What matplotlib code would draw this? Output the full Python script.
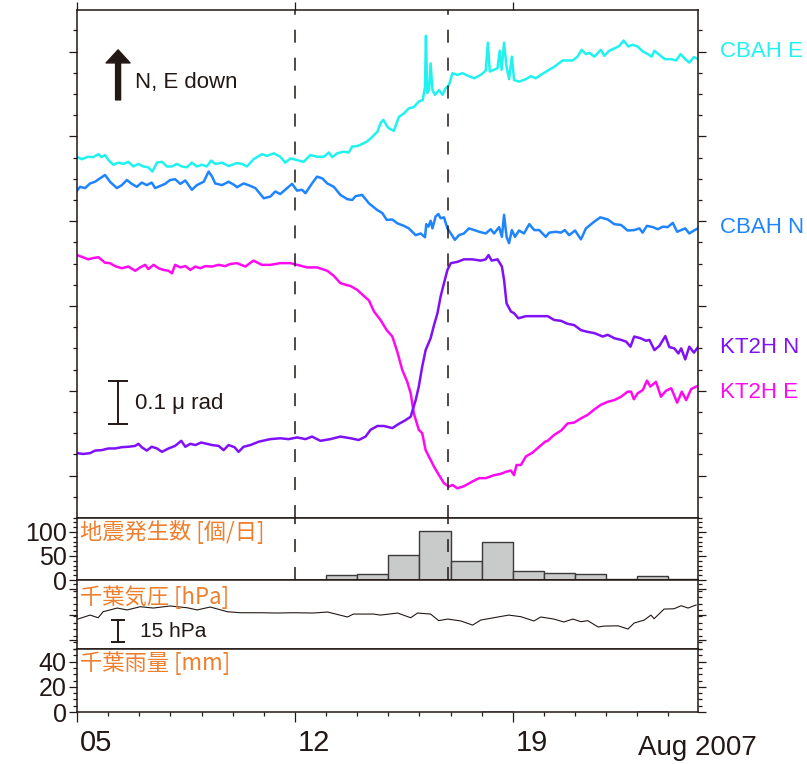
import numpy as np
import matplotlib
matplotlib.use('Agg')
import matplotlib.pyplot as plt
from matplotlib.ticker import MultipleLocator, FixedLocator
from matplotlib.transforms import ScaledTranslation

plt.rcParams['font.family'] = ['Liberation Sans', 'DejaVu Sans']

# ---------------- data (time = days since 2007-08-05 00:00) ----------------
# tilt traces, micro-radian (arbitrary offsets, N and E down)
cbah_e_t = [0.00,0.15,0.36,0.52,0.69,0.79,0.90,1.01,1.17,1.33,
            1.49,1.65,1.81,1.97,2.13,2.29,2.42,2.57,2.73,2.89,
            3.05,3.21,3.37,3.53,3.69,3.85,4.01,4.17,4.31,4.44,
            4.66,4.87,5.06,5.14,5.30,5.46,5.67,5.94,6.11,6.32,
            6.53,6.69,6.86,7.07,7.28,7.50,7.71,7.93,8.09,8.20,
            8.36,8.57,8.73,8.84,9.00,9.16,9.32,9.49,9.65,9.75,
            9.84,9.97,10.02,10.18,10.34,10.50,10.66,10.82,10.98,11.11,
            11.18,11.21,11.25,11.31,11.36,11.42,11.50,11.63,11.74,11.84,
            11.95,12.06,12.22,12.38,12.59,12.76,12.97,13.13,13.20,13.26,
            13.40,13.51,13.58,13.64,13.72,13.80,13.88,13.97,14.04,14.20,
            14.42,14.58,14.74,14.90,15.12,15.33,15.60,15.92,16.08,16.21,
            16.35,16.46,16.62,16.83,16.94,17.10,17.28,17.42,17.56,17.71,
            17.85,18.01,18.18,18.34,18.46,18.55,18.71,18.89,19.09,19.25,
            19.39,19.54,19.67,19.82,19.95]
cbah_e = [0.852,0.846,0.852,0.851,0.858,0.851,0.856,0.844,0.833,0.838,
          0.835,0.840,0.829,0.835,0.829,0.827,0.817,0.838,0.840,0.829,
          0.829,0.835,0.829,0.827,0.838,0.829,0.833,0.829,0.843,0.835,
          0.838,0.830,0.835,0.837,0.835,0.829,0.846,0.858,0.854,0.860,
          0.852,0.838,0.848,0.844,0.840,0.856,0.852,0.852,0.862,0.851,
          0.860,0.864,0.862,0.876,0.877,0.882,0.888,0.899,0.911,0.931,
          0.939,0.923,0.919,0.913,0.946,0.954,0.966,0.969,0.982,0.986,
          1.017,1.137,1.002,1.009,1.072,1.009,0.998,1.009,0.998,1.013,
          1.021,1.049,1.045,1.049,1.042,1.037,1.045,1.055,1.121,1.053,
          1.057,1.061,1.102,1.057,1.121,1.064,1.035,1.088,1.033,1.029,
          1.035,1.042,1.037,1.045,1.055,1.064,1.079,1.079,1.088,1.104,
          1.094,1.097,1.088,1.104,1.090,1.102,1.108,1.113,1.126,1.112,
          1.116,1.112,1.100,1.094,1.088,1.102,1.092,1.082,1.082,1.079,
          1.094,1.082,1.074,1.087,1.082]

cbah_n_t = [0.00,0.10,0.26,0.42,0.58,0.74,0.90,1.06,1.28,1.44,
            1.60,1.76,1.92,2.08,2.24,2.40,2.51,2.67,2.83,2.99,
            3.15,3.32,3.48,3.69,3.85,4.07,4.23,4.34,4.44,4.66,
            4.87,5.06,5.14,5.35,5.51,5.73,6.00,6.21,6.37,6.53,
            6.75,6.91,7.07,7.23,7.34,7.55,7.71,7.88,8.04,8.25,
            8.46,8.68,8.84,8.95,9.16,9.38,9.65,9.81,9.95,10.13,
            10.29,10.50,10.66,10.88,11.04,11.18,11.22,11.29,11.36,11.42,
            11.52,11.61,11.68,11.79,11.90,12.01,12.14,12.27,12.43,12.59,
            12.76,12.92,13.13,13.29,13.40,13.56,13.65,13.72,13.80,13.88,
            13.97,14.07,14.20,14.36,14.53,14.69,14.85,15.06,15.17,15.38,
            15.55,15.67,15.81,16.00,16.19,16.35,16.62,16.81,17.05,17.26,
            17.48,17.69,17.90,18.07,18.17,18.31,18.50,18.66,18.82,18.98,
            19.14,19.28,19.41,19.54,19.67,19.82,19.95]
cbah_n = [0.772,0.781,0.778,0.789,0.793,0.801,0.809,0.793,0.778,0.785,
          0.797,0.788,0.781,0.791,0.785,0.791,0.778,0.783,0.788,0.797,
          0.799,0.788,0.796,0.774,0.785,0.793,0.817,0.805,0.789,0.785,
          0.793,0.785,0.780,0.789,0.785,0.778,0.754,0.758,0.770,0.764,
          0.778,0.788,0.772,0.774,0.766,0.789,0.805,0.801,0.789,0.781,
          0.762,0.752,0.750,0.759,0.762,0.742,0.726,0.719,0.703,0.704,
          0.695,0.689,0.683,0.667,0.671,0.662,0.693,0.687,0.701,0.683,
          0.711,0.717,0.707,0.709,0.683,0.671,0.656,0.667,0.671,0.683,
          0.679,0.675,0.671,0.681,0.671,0.686,0.663,0.715,0.663,0.648,
          0.679,0.663,0.678,0.671,0.693,0.679,0.679,0.663,0.673,0.675,
          0.673,0.679,0.667,0.678,0.657,0.683,0.699,0.709,0.704,0.693,
          0.691,0.678,0.679,0.683,0.673,0.689,0.686,0.681,0.687,0.686,
          0.696,0.675,0.679,0.683,0.671,0.678,0.683]

kt2h_e_t = [0.00,0.15,0.36,0.52,0.69,0.90,1.06,1.22,1.44,1.65,
            1.87,2.03,2.19,2.29,2.46,2.62,2.78,2.94,3.05,3.15,
            3.32,3.48,3.64,3.80,3.96,4.12,4.34,4.55,4.76,4.92,
            5.14,5.41,5.67,5.94,6.21,6.53,6.86,7.07,7.39,7.71,
            8.04,8.25,8.46,8.63,8.79,9.00,9.21,9.38,9.54,9.75,
            9.95,10.13,10.29,10.45,10.61,10.72,10.82,10.98,11.09,11.20,
            11.36,11.47,11.63,11.79,11.95,12.06,12.22,12.43,12.70,12.92,
            13.13,13.40,13.61,13.78,13.94,14.04,14.12,14.26,14.42,14.63,
            14.85,15.04,15.12,15.33,15.55,15.76,15.97,16.19,16.40,16.62,
            16.83,17.05,17.26,17.48,17.69,17.80,17.89,18.01,18.18,18.31,
            18.42,18.60,18.76,18.92,19.09,19.28,19.43,19.57,19.73,19.89,19.95]
kt2h_e = [0.620,0.616,0.610,0.613,0.615,0.602,0.601,0.594,0.589,0.593,
          0.583,0.591,0.597,0.587,0.597,0.589,0.585,0.583,0.577,0.597,
          0.591,0.594,0.585,0.593,0.589,0.594,0.593,0.597,0.594,0.599,
          0.601,0.593,0.607,0.597,0.597,0.601,0.601,0.597,0.591,0.591,
          0.583,0.571,0.554,0.550,0.547,0.538,0.524,0.513,0.487,0.467,
          0.443,0.428,0.392,0.349,0.321,0.294,0.247,0.208,0.200,0.160,
          0.137,0.121,0.101,0.082,0.074,0.078,0.070,0.075,0.086,0.094,
          0.094,0.101,0.104,0.109,0.112,0.101,0.125,0.125,0.145,0.154,
          0.168,0.180,0.182,0.196,0.206,0.223,0.225,0.235,0.243,0.256,
          0.267,0.274,0.278,0.286,0.298,0.298,0.280,0.294,0.302,0.324,
          0.310,0.321,0.286,0.300,0.306,0.272,0.298,0.278,0.304,0.310,0.311]

kt2h_n_t = [0.00,0.20,0.42,0.58,0.79,1.01,1.22,1.44,1.65,1.87,
            1.97,2.08,2.24,2.40,2.57,2.73,2.94,3.15,3.35,3.48,
            3.64,3.80,3.99,4.17,4.34,4.55,4.71,4.87,5.06,5.19,
            5.35,5.57,5.84,6.21,6.53,6.80,7.07,7.34,7.55,7.82,
            8.14,8.46,8.79,9.05,9.27,9.43,9.65,9.86,10.13,10.34,
            10.56,10.72,10.88,10.98,11.09,11.20,11.36,11.47,11.58,11.68,
            11.79,11.90,12.01,12.22,12.43,12.70,12.97,13.13,13.22,13.32,
            13.51,13.65,13.72,13.80,13.94,14.04,14.18,14.42,14.69,14.96,
            15.12,15.33,15.55,15.76,15.97,16.19,16.40,16.62,16.89,17.05,
            17.26,17.48,17.64,17.78,17.90,18.10,18.28,18.39,18.55,18.71,
            18.90,19.03,19.19,19.32,19.41,19.54,19.67,19.82,19.95]
kt2h_n = [0.153,0.151,0.153,0.159,0.160,0.164,0.164,0.167,0.168,0.170,
          0.175,0.167,0.159,0.168,0.164,0.156,0.164,0.170,0.182,0.168,
          0.175,0.172,0.178,0.175,0.172,0.170,0.160,0.172,0.167,0.156,
          0.168,0.172,0.180,0.186,0.188,0.186,0.190,0.186,0.192,0.182,
          0.186,0.192,0.188,0.184,0.192,0.208,0.217,0.217,0.212,0.222,
          0.231,0.239,0.278,0.310,0.357,0.396,0.424,0.455,0.483,0.522,
          0.554,0.585,0.601,0.604,0.610,0.610,0.607,0.610,0.620,0.607,
          0.610,0.593,0.561,0.506,0.487,0.483,0.471,0.476,0.476,0.476,
          0.476,0.467,0.465,0.458,0.455,0.443,0.439,0.436,0.428,0.432,
          0.424,0.420,0.416,0.404,0.428,0.424,0.418,0.420,0.396,0.406,
          0.429,0.403,0.400,0.388,0.400,0.374,0.404,0.390,0.403]

# daily earthquake counts (Aug 5 .. Aug 24)
quake_day = [0, 1, 2, 3, 4, 5, 6, 7, 8, 9, 10, 11, 12, 13, 14, 15, 16, 17, 18, 19]
quake_count = [0, 1, 1, 0, 1, 0, 1, 0, 10, 13.5, 53, 102, 40.5, 80, 19, 15.5, 13.5, 2, 9, 2]

# Chiba pressure (hPa)
press_t = [0.00,0.42,0.68,0.84,1.29,1.61,2.03,2.45,2.99,3.54,
           3.86,4.28,4.83,5.25,5.89,6.44,6.95,7.60,8.05,8.69,
           8.88,9.53,9.75,10.30,10.72,10.94,11.36,11.62,11.91,12.33,
           12.71,12.97,13.39,13.87,14.26,14.68,14.90,15.32,15.64,15.93,
           16.19,16.41,16.74,16.93,17.38,17.70,17.90,18.22,18.44,18.54,
           18.86,19.18,19.41,19.63,19.89]
press_hpa = [1004.3,1007.2,1005.4,1009.5,1012.0,1010.7,1012.9,1012.0,1013.4,1012.2,
             1010.7,1012.7,1009.5,1008.8,1008.8,1008.6,1008.8,1008.6,1009.3,1005.9,
             1007.9,1007.9,1007.2,1008.6,1005.4,1008.6,1007.9,1003.4,1004.5,1003.2,
             1000.4,1003.8,1005.4,1007.2,1006.1,1003.2,1005.9,1004.5,1002.5,1004.5,
             1002.7,1003.4,999.1,999.7,999.9,997.7,1001.8,1003.8,1007.2,1004.7,
             1011.3,1011.5,1013.6,1012.0,1014.1]

# Chiba daily rain (mm)
rain_day = [0, 1, 2, 3, 4, 5, 6, 7, 8, 9, 10, 11, 12, 13, 14, 15, 16, 17, 18, 19]
rain_mm = [0, 0, 0, 0, 0, 0, 0, 0, 0, 0, 0, 0, 0, 0.6, 0, 0, 0, 0, 0.6, 0]

event_days = [7.0, 11.93]
day_ticks = [0, 7, 14]
day_labels = ['05', '12', '19']

# ---------------- style ----------------
INK = '#231815'
C_CBAH_E = '#20F2F0'
C_CBAH_N = '#1E84FF'
C_KT2H_N = '#8010F8'
C_KT2H_E = '#FF0AF0'
ORANGE = '#EE7F2D'
JP = ['Noto Sans CJK JP', 'DejaVu Sans']
XMAX = 19.95

fig = plt.figure(figsize=(8.07, 7.64), dpi=100)
fig.patch.set_facecolor('white')
L, W = 77 / 807, 621 / 807


def frame(top, bottom):
    return [L, 1 - bottom / 764, W, (bottom - top) / 764]


ax = fig.add_axes(frame(10, 518))
axq = fig.add_axes(frame(518, 580))
axp = fig.add_axes(frame(580, 649))
axr = fig.add_axes(frame(649, 712))

for a in (ax, axq, axp, axr):
    a.set_xlim(0, XMAX)
    for s in a.spines.values():
        s.set_color(INK)
        s.set_linewidth(1.1)
    a.tick_params(which='both', direction='out', color=INK, width=0.9,
                  left=True, right=True, labelsize=18, labelcolor=INK)
    a.tick_params(which='major', length=6, pad=1.5)
    a.tick_params(which='minor', length=3)

# ---------------- main tilt panel ----------------
ax.plot(cbah_e_t, cbah_e, color=C_CBAH_E, lw=1.8)
ax.plot(cbah_n_t, cbah_n, color=C_CBAH_N, lw=1.8)
ax.plot(kt2h_e_t, kt2h_e, color=C_KT2H_E, lw=1.8)
ax.plot(kt2h_n_t, kt2h_n, color=C_KT2H_N, lw=1.8)
ax.set_ylim(0, 1.198)
ax.yaxis.set_major_locator(FixedLocator([0.1, 0.3, 0.5, 0.7, 0.9, 1.1]))
ax.yaxis.set_minor_locator(MultipleLocator(0.05))
ax.xaxis.set_major_locator(FixedLocator(day_ticks))
ax.xaxis.set_minor_locator(MultipleLocator(1))
ax.tick_params(labelleft=False, labelbottom=False, top=True, bottom=False)

yt = ax.get_yaxis_transform()
for name, yv, col in [('CBAH E', 1.099, C_CBAH_E), ('CBAH N', 0.684, C_CBAH_N),
                      ('KT2H N', 0.401, C_KT2H_N), ('KT2H E', 0.297, C_KT2H_E)]:
    ax.text(1.035, yv, name, transform=yt, color=col, fontsize=16,
            ha='left', va='center', clip_on=False)

# north arrow
ax.annotate('', xy=(1.32, 1.104), xytext=(1.32, 0.986),
            arrowprops=dict(arrowstyle='simple,head_length=0.47,head_width=0.86,tail_width=0.18',
                            color=INK, mutation_scale=20, shrinkA=0, shrinkB=0))
ax.text(1.86, 1.028, 'N, E down', fontsize=16, color=INK, ha='left', va='center')

# 0.1 micro-rad scale bar
ax.plot([1.32, 1.32], [0.222, 0.322], color=INK, lw=1.4)
ax.plot([1.32, 1.32], [0.222, 0.322], ls='none', marker='_', ms=14, mew=1.4, color=INK)
ax.text(1.86, 0.271, '0.1 μ rad', fontsize=16, color=INK, ha='left', va='center')

for d in event_days:
    ax.axvline(d, color=INK, lw=1.1, dashes=(8.5, 9.8))

# ---------------- earthquake counts ----------------
axq.bar(quake_day, quake_count, width=1, align='edge', color='#C9CACA',
        edgecolor='#3E3A39', lw=1.0, zorder=2)
axq.set_ylim(0, 129)
axq.yaxis.set_major_locator(FixedLocator([0, 50, 100]))
axq.yaxis.set_minor_locator(MultipleLocator(10))
axq.tick_params(axis='x', which='both', bottom=False, top=False, labelbottom=False)
for d in event_days:
    axq.axvline(d, color=INK, lw=1.1, dashes=(8.5, 9.8), zorder=3)
axq.text(0.005, 0.77, '地震発生数 [個/日]', transform=axq.transAxes, family=JP,
         fontsize=16, color=ORANGE, ha='left', va='center')

# ---------------- pressure ----------------
axp.plot(press_t, press_hpa, color=INK, lw=0.8)
axp.set_ylim(984.1, 1031.1)
axp.yaxis.set_major_locator(FixedLocator([990, 1007.5, 1025]))
axp.yaxis.set_minor_locator(MultipleLocator(4.375))
axp.tick_params(labelleft=False)
axp.tick_params(axis='x', which='both', bottom=False, top=False, labelbottom=False)
axp.text(0.005, 0.75, '千葉気圧 [hPa]', transform=axp.transAxes, family=JP,
         fontsize=16, color=ORANGE, ha='left', va='center')
axp.plot([1.32, 1.32], [988.8, 1003.8], color=INK, lw=1.4)
axp.plot([1.32, 1.32], [988.8, 1003.8], ls='none', marker='_', ms=10, mew=1.4, color=INK)
axp.text(2.02, 996.3, '15 hPa', fontsize=15, color=INK, ha='left', va='center')

# ---------------- rain ----------------
axr.bar(rain_day, rain_mm, width=1, align='edge', color='#9FA0A0', lw=0)
axr.set_ylim(0, 50)
axr.yaxis.set_major_locator(FixedLocator([0, 20, 40]))
axr.yaxis.set_minor_locator(MultipleLocator(5))
axr.xaxis.set_major_locator(FixedLocator(day_ticks))
axr.xaxis.set_minor_locator(MultipleLocator(1))
axr.set_xticklabels(day_labels)
axr.tick_params(axis='x', which='both', top=False, bottom=True)
axr.tick_params(axis='x', which='major', length=7, pad=5)
for lbl in axr.get_xticklabels():
    lbl.set_horizontalalignment('left')
    lbl.set_fontsize(21)
    lbl.set_transform(lbl.get_transform() + ScaledTranslation(3 / 100, 0, fig.dpi_scale_trans))
axr.text(0.005, 0.78, '千葉雨量 [mm]', transform=axr.transAxes, family=JP,
         fontsize=16, color=ORANGE, ha='left', va='center')

fig.text(757 / 807, 9 / 764, 'Aug 2007', fontsize=20, color=INK,
         ha='right', va='baseline')

fig.savefig('out.png', dpi=100, facecolor='white')
